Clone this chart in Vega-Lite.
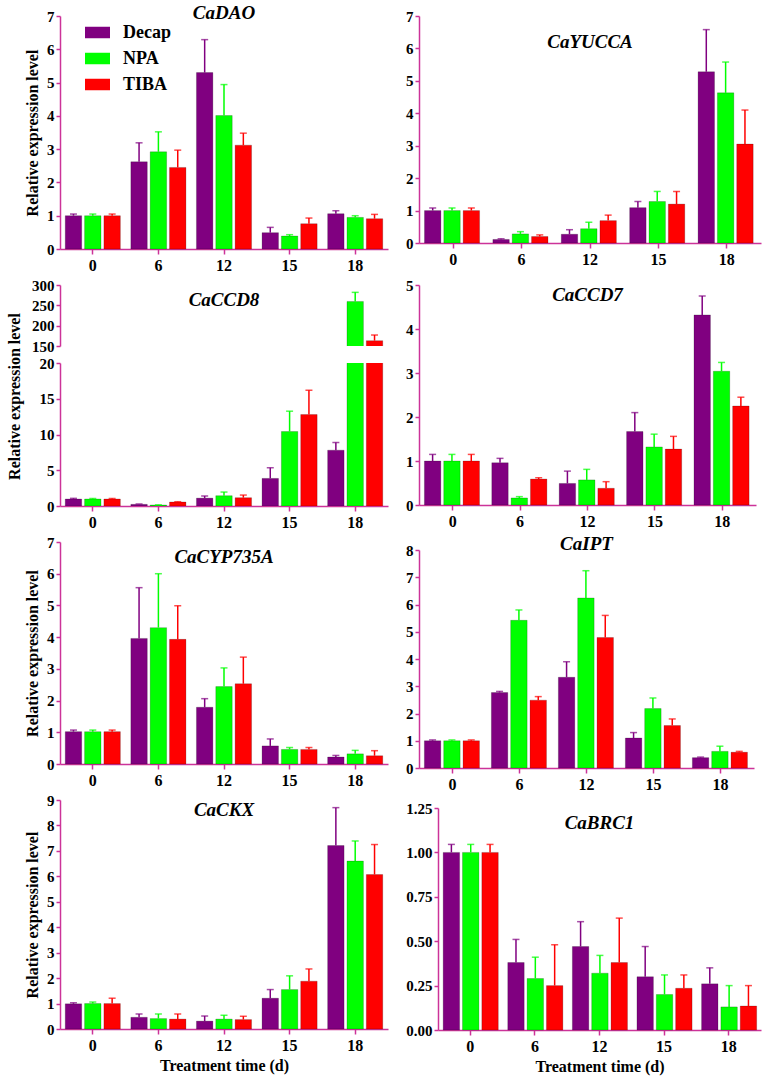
{
"$schema": "https://vega.github.io/schema/vega-lite/v6.json",
"padding": {"left": 6, "top": 3, "right": 2, "bottom": 4},
"background": "white",
"datasets": {"expr": [
{"gene":"CaDAO","time":"0","treatment":"Decap","mean":1.0,"upper":1.05},
{"gene":"CaDAO","time":"0","treatment":"NPA","mean":1.0,"upper":1.05},
{"gene":"CaDAO","time":"0","treatment":"TIBA","mean":1.0,"upper":1.05},
{"gene":"CaDAO","time":"6","treatment":"Decap","mean":2.62,"upper":3.19},
{"gene":"CaDAO","time":"6","treatment":"NPA","mean":2.92,"upper":3.52},
{"gene":"CaDAO","time":"6","treatment":"TIBA","mean":2.45,"upper":2.97},
{"gene":"CaDAO","time":"12","treatment":"Decap","mean":5.30,"upper":6.29},
{"gene":"CaDAO","time":"12","treatment":"NPA","mean":4.01,"upper":4.94},
{"gene":"CaDAO","time":"12","treatment":"TIBA","mean":3.12,"upper":3.48},
{"gene":"CaDAO","time":"15","treatment":"Decap","mean":0.49,"upper":0.65},
{"gene":"CaDAO","time":"15","treatment":"NPA","mean":0.39,"upper":0.43},
{"gene":"CaDAO","time":"15","treatment":"TIBA","mean":0.76,"upper":0.93},
{"gene":"CaDAO","time":"18","treatment":"Decap","mean":1.06,"upper":1.15},
{"gene":"CaDAO","time":"18","treatment":"NPA","mean":0.95,"upper":1.0},
{"gene":"CaDAO","time":"18","treatment":"TIBA","mean":0.91,"upper":1.04},
{"gene":"CaYUCCA","time":"0","treatment":"Decap","mean":1.0,"upper":1.08},
{"gene":"CaYUCCA","time":"0","treatment":"NPA","mean":1.0,"upper":1.08},
{"gene":"CaYUCCA","time":"0","treatment":"TIBA","mean":1.0,"upper":1.08},
{"gene":"CaYUCCA","time":"6","treatment":"Decap","mean":0.11,"upper":0.13},
{"gene":"CaYUCCA","time":"6","treatment":"NPA","mean":0.28,"upper":0.35},
{"gene":"CaYUCCA","time":"6","treatment":"TIBA","mean":0.2,"upper":0.25},
{"gene":"CaYUCCA","time":"12","treatment":"Decap","mean":0.27,"upper":0.41},
{"gene":"CaYUCCA","time":"12","treatment":"NPA","mean":0.44,"upper":0.64},
{"gene":"CaYUCCA","time":"12","treatment":"TIBA","mean":0.69,"upper":0.86},
{"gene":"CaYUCCA","time":"15","treatment":"Decap","mean":1.09,"upper":1.28},
{"gene":"CaYUCCA","time":"15","treatment":"NPA","mean":1.28,"upper":1.59},
{"gene":"CaYUCCA","time":"15","treatment":"TIBA","mean":1.2,"upper":1.59},
{"gene":"CaYUCCA","time":"18","treatment":"Decap","mean":5.28,"upper":6.58},
{"gene":"CaYUCCA","time":"18","treatment":"NPA","mean":4.63,"upper":5.58},
{"gene":"CaYUCCA","time":"18","treatment":"TIBA","mean":3.05,"upper":4.1},
{"gene":"CaCCD8","time":"0","treatment":"Decap","mean":0.98,"upper":1.07},
{"gene":"CaCCD8","time":"0","treatment":"NPA","mean":0.98,"upper":1.05},
{"gene":"CaCCD8","time":"0","treatment":"TIBA","mean":0.98,"upper":1.05},
{"gene":"CaCCD8","time":"6","treatment":"Decap","mean":0.23,"upper":0.28},
{"gene":"CaCCD8","time":"6","treatment":"NPA","mean":0.14,"upper":0.16},
{"gene":"CaCCD8","time":"6","treatment":"TIBA","mean":0.56,"upper":0.6},
{"gene":"CaCCD8","time":"12","treatment":"Decap","mean":1.1,"upper":1.4},
{"gene":"CaCCD8","time":"12","treatment":"NPA","mean":1.44,"upper":1.95},
{"gene":"CaCCD8","time":"12","treatment":"TIBA","mean":1.16,"upper":1.53},
{"gene":"CaCCD8","time":"15","treatment":"Decap","mean":3.86,"upper":5.35},
{"gene":"CaCCD8","time":"15","treatment":"NPA","mean":10.42,"upper":13.26},
{"gene":"CaCCD8","time":"15","treatment":"TIBA","mean":12.79,"upper":16.19},
{"gene":"CaCCD8","time":"18","treatment":"Decap","mean":7.81,"upper":8.88},
{"gene":"CaCCD8","time":"18","treatment":"NPA","mean":259.6,"upper":281.9},
{"gene":"CaCCD8","time":"18","treatment":"TIBA","mean":163.2,"upper":177.0},
{"gene":"CaCCD7","time":"0","treatment":"Decap","mean":1.0,"upper":1.15},
{"gene":"CaCCD7","time":"0","treatment":"NPA","mean":1.0,"upper":1.15},
{"gene":"CaCCD7","time":"0","treatment":"TIBA","mean":1.0,"upper":1.15},
{"gene":"CaCCD7","time":"6","treatment":"Decap","mean":0.96,"upper":1.06},
{"gene":"CaCCD7","time":"6","treatment":"NPA","mean":0.16,"upper":0.19},
{"gene":"CaCCD7","time":"6","treatment":"TIBA","mean":0.59,"upper":0.62},
{"gene":"CaCCD7","time":"12","treatment":"Decap","mean":0.49,"upper":0.77},
{"gene":"CaCCD7","time":"12","treatment":"NPA","mean":0.57,"upper":0.81},
{"gene":"CaCCD7","time":"12","treatment":"TIBA","mean":0.38,"upper":0.53},
{"gene":"CaCCD7","time":"15","treatment":"Decap","mean":1.67,"upper":2.1},
{"gene":"CaCCD7","time":"15","treatment":"NPA","mean":1.32,"upper":1.61},
{"gene":"CaCCD7","time":"15","treatment":"TIBA","mean":1.27,"upper":1.56},
{"gene":"CaCCD7","time":"18","treatment":"Decap","mean":4.32,"upper":4.75},
{"gene":"CaCCD7","time":"18","treatment":"NPA","mean":3.04,"upper":3.24},
{"gene":"CaCCD7","time":"18","treatment":"TIBA","mean":2.25,"upper":2.45},
{"gene":"CaCYP735A","time":"0","treatment":"Decap","mean":1.02,"upper":1.07},
{"gene":"CaCYP735A","time":"0","treatment":"NPA","mean":1.02,"upper":1.07},
{"gene":"CaCYP735A","time":"0","treatment":"TIBA","mean":1.02,"upper":1.07},
{"gene":"CaCYP735A","time":"6","treatment":"Decap","mean":3.96,"upper":5.56},
{"gene":"CaCYP735A","time":"6","treatment":"NPA","mean":4.3,"upper":6.0},
{"gene":"CaCYP735A","time":"6","treatment":"TIBA","mean":3.93,"upper":4.99},
{"gene":"CaCYP735A","time":"12","treatment":"Decap","mean":1.79,"upper":2.06},
{"gene":"CaCYP735A","time":"12","treatment":"NPA","mean":2.44,"upper":3.03},
{"gene":"CaCYP735A","time":"12","treatment":"TIBA","mean":2.53,"upper":3.37},
{"gene":"CaCYP735A","time":"15","treatment":"Decap","mean":0.57,"upper":0.79},
{"gene":"CaCYP735A","time":"15","treatment":"NPA","mean":0.46,"upper":0.52},
{"gene":"CaCYP735A","time":"15","treatment":"TIBA","mean":0.46,"upper":0.52},
{"gene":"CaCYP735A","time":"18","treatment":"Decap","mean":0.22,"upper":0.27},
{"gene":"CaCYP735A","time":"18","treatment":"NPA","mean":0.32,"upper":0.43},
{"gene":"CaCYP735A","time":"18","treatment":"TIBA","mean":0.26,"upper":0.42},
{"gene":"CaIPT","time":"0","treatment":"Decap","mean":1.0,"upper":1.03},
{"gene":"CaIPT","time":"0","treatment":"NPA","mean":1.0,"upper":1.03},
{"gene":"CaIPT","time":"0","treatment":"TIBA","mean":1.0,"upper":1.03},
{"gene":"CaIPT","time":"6","treatment":"Decap","mean":2.77,"upper":2.81},
{"gene":"CaIPT","time":"6","treatment":"NPA","mean":5.42,"upper":5.8},
{"gene":"CaIPT","time":"6","treatment":"TIBA","mean":2.49,"upper":2.62},
{"gene":"CaIPT","time":"12","treatment":"Decap","mean":3.33,"upper":3.9},
{"gene":"CaIPT","time":"12","treatment":"NPA","mean":6.24,"upper":7.24},
{"gene":"CaIPT","time":"12","treatment":"TIBA","mean":4.79,"upper":5.6},
{"gene":"CaIPT","time":"15","treatment":"Decap","mean":1.1,"upper":1.3},
{"gene":"CaIPT","time":"15","treatment":"NPA","mean":2.18,"upper":2.57},
{"gene":"CaIPT","time":"15","treatment":"TIBA","mean":1.56,"upper":1.8},
{"gene":"CaIPT","time":"18","treatment":"Decap","mean":0.38,"upper":0.4},
{"gene":"CaIPT","time":"18","treatment":"NPA","mean":0.61,"upper":0.8},
{"gene":"CaIPT","time":"18","treatment":"TIBA","mean":0.58,"upper":0.61},
{"gene":"CaCKX","time":"0","treatment":"Decap","mean":0.99,"upper":1.03},
{"gene":"CaCKX","time":"0","treatment":"NPA","mean":1.0,"upper":1.06},
{"gene":"CaCKX","time":"0","treatment":"TIBA","mean":1.0,"upper":1.21},
{"gene":"CaCKX","time":"6","treatment":"Decap","mean":0.46,"upper":0.59},
{"gene":"CaCKX","time":"6","treatment":"NPA","mean":0.41,"upper":0.59},
{"gene":"CaCKX","time":"6","treatment":"TIBA","mean":0.39,"upper":0.59},
{"gene":"CaCKX","time":"12","treatment":"Decap","mean":0.31,"upper":0.51},
{"gene":"CaCKX","time":"12","treatment":"NPA","mean":0.39,"upper":0.54},
{"gene":"CaCKX","time":"12","treatment":"TIBA","mean":0.37,"upper":0.5},
{"gene":"CaCKX","time":"15","treatment":"Decap","mean":1.21,"upper":1.55},
{"gene":"CaCKX","time":"15","treatment":"NPA","mean":1.55,"upper":2.09},
{"gene":"CaCKX","time":"15","treatment":"TIBA","mean":1.88,"upper":2.36},
{"gene":"CaCKX","time":"18","treatment":"Decap","mean":7.21,"upper":8.7},
{"gene":"CaCKX","time":"18","treatment":"NPA","mean":6.6,"upper":7.39},
{"gene":"CaCKX","time":"18","treatment":"TIBA","mean":6.07,"upper":7.25},
{"gene":"CaBRC1","time":"0","treatment":"Decap","mean":1.0,"upper":1.045},
{"gene":"CaBRC1","time":"0","treatment":"NPA","mean":1.0,"upper":1.045},
{"gene":"CaBRC1","time":"0","treatment":"TIBA","mean":1.0,"upper":1.045},
{"gene":"CaBRC1","time":"6","treatment":"Decap","mean":0.38,"upper":0.51},
{"gene":"CaBRC1","time":"6","treatment":"NPA","mean":0.29,"upper":0.41},
{"gene":"CaBRC1","time":"6","treatment":"TIBA","mean":0.25,"upper":0.48},
{"gene":"CaBRC1","time":"12","treatment":"Decap","mean":0.47,"upper":0.61},
{"gene":"CaBRC1","time":"12","treatment":"NPA","mean":0.32,"upper":0.42},
{"gene":"CaBRC1","time":"12","treatment":"TIBA","mean":0.38,"upper":0.63},
{"gene":"CaBRC1","time":"15","treatment":"Decap","mean":0.3,"upper":0.47},
{"gene":"CaBRC1","time":"15","treatment":"NPA","mean":0.2,"upper":0.31},
{"gene":"CaBRC1","time":"15","treatment":"TIBA","mean":0.235,"upper":0.31},
{"gene":"CaBRC1","time":"18","treatment":"Decap","mean":0.26,"upper":0.35},
{"gene":"CaBRC1","time":"18","treatment":"NPA","mean":0.13,"upper":0.25},
{"gene":"CaBRC1","time":"18","treatment":"TIBA","mean":0.135,"upper":0.25}
]},
"columns": 2,
"align": "none",
"spacing": {"row": 5, "column": 17},
"resolve": {"scale": {"color": "independent"}, "legend": {"color": "independent"}},
"concat": [
{
"width": 328, "height": 233,
"data": {"name": "expr"},
"transform": [{"filter": "datum.gene === 'CaDAO'"}],
"encoding": {
 "x": {"field": "time", "type": "nominal", "scale": {"domain": ["0","6","12","15","18"], "paddingInner": 0.16, "paddingOuter": 0.08}, "axis": {"title": null}},
 "y": {"field": "mean", "type": "quantitative", "scale": {"domain": [0,7], "nice": false}, "axis": {"values": [0,1,2,3,4,5,6,7], "format": "d", "title": "Relative expression level", "titlePadding": 6}}
},
"layer": [
{"mark": {"type": "bar", "stroke": "#000", "strokeOpacity": 0.25, "strokeWidth": 0.8},
 "encoding": {
  "xOffset": {"field": "treatment", "type": "nominal", "scale": {"domain": ["Decap","NPA","TIBA"], "paddingInner": 0.15, "paddingOuter": 0}},
  "color": {"field": "treatment", "type": "nominal", "scale": {"domain": ["Decap","NPA","TIBA"], "range": ["#800080","#00ff00","#ff0000"]},
   "legend": {"title": null, "orient": "none", "legendX": 25, "legendY": 4, "symbolType": "M-1,-0.46H1V0.46H-1Z", "symbolSize": 625, "symbolStrokeWidth": 0, "symbolOpacity": 1, "labelFont": "Liberation Serif", "labelFontWeight": "bold", "labelFontSize": 18, "labelColor": "#000", "labelOffset": 13, "rowPadding": 4, "padding": 0}}
 }},
{"mark": {"type": "rule", "strokeWidth": 1.5},
 "encoding": {
  "xOffset": {"field": "treatment", "type": "nominal", "scale": {"domain": ["Decap","NPA","TIBA"]}},
  "y2": {"field": "upper"},
  "color": {"field": "treatment", "type": "nominal", "legend": null}
 }},
{"mark": {"type": "tick", "thickness": 1.5, "size": 7},
 "encoding": {
  "xOffset": {"field": "treatment", "type": "nominal", "scale": {"domain": ["Decap","NPA","TIBA"]}},
  "y": {"field": "upper", "type": "quantitative", "scale": {"domain": [0,7], "nice": false}, "axis": {"values": [0,1,2,3,4,5,6,7], "format": "d", "title": "Relative expression level", "titlePadding": 6}},
  "color": {"field": "treatment", "type": "nominal", "legend": null}
 }},
{"transform": [{"filter": "datum.time === '0' && datum.treatment === 'Decap'"}],
 "mark": {"type": "text", "font": "Liberation Serif", "fontStyle": "italic", "fontWeight": "bold", "fontSize": 19, "baseline": "alphabetic", "align": "center"},
 "encoding": {
  "x": {"datum": "12", "type": "nominal", "scale": {"domain": ["0","6","12","15","18"]}, "axis": {"title": null}},
  "y": {"datum": 6.91, "type": "quantitative", "scale": {"domain": [0,7], "nice": false}, "axis": {"values": [0,1,2,3,4,5,6,7], "format": "d", "title": "Relative expression level", "titlePadding": 6}},
  "text": {"value": "CaDAO"}}}
]
},
{
"width": 342, "height": 227,
"data": {"name": "expr"},
"transform": [{"filter": "datum.gene === 'CaYUCCA'"}],
"encoding": {
 "x": {"field": "time", "type": "nominal", "scale": {"domain": ["0","6","12","15","18"], "paddingInner": 0.16, "paddingOuter": 0.08}, "axis": {"title": null}},
 "y": {"field": "mean", "type": "quantitative", "scale": {"domain": [0,7], "nice": false}, "axis": {"values": [0,1,2,3,4,5,6,7], "format": "d", "title": null}}
},
"layer": [
{"mark": {"type": "bar", "stroke": "#000", "strokeOpacity": 0.25, "strokeWidth": 0.8},
 "encoding": {
  "xOffset": {"field": "treatment", "type": "nominal", "scale": {"domain": ["Decap","NPA","TIBA"], "paddingInner": 0.15, "paddingOuter": 0}},
  "color": {"field": "treatment", "type": "nominal", "scale": {"domain": ["Decap","NPA","TIBA"], "range": ["#800080","#00ff00","#ff0000"]}, "legend": null}
 }},
{"mark": {"type": "rule", "strokeWidth": 1.5},
 "encoding": {
  "xOffset": {"field": "treatment", "type": "nominal", "scale": {"domain": ["Decap","NPA","TIBA"]}},
  "y2": {"field": "upper"},
  "color": {"field": "treatment", "type": "nominal", "legend": null}
 }},
{"mark": {"type": "tick", "thickness": 1.5, "size": 7},
 "encoding": {
  "xOffset": {"field": "treatment", "type": "nominal", "scale": {"domain": ["Decap","NPA","TIBA"]}},
  "y": {"field": "upper", "type": "quantitative", "scale": {"domain": [0,7], "nice": false}, "axis": {"values": [0,1,2,3,4,5,6,7], "format": "d", "title": null}},
  "color": {"field": "treatment", "type": "nominal", "legend": null}
 }},
{"transform": [{"filter": "datum.time === '0' && datum.treatment === 'Decap'"}],
 "mark": {"type": "text", "font": "Liberation Serif", "fontStyle": "italic", "fontWeight": "bold", "fontSize": 19, "baseline": "alphabetic", "align": "center"},
 "encoding": {
  "x": {"datum": "12", "type": "nominal", "scale": {"domain": ["0","6","12","15","18"]}, "axis": {"title": null}},
  "y": {"datum": 6.02, "type": "quantitative", "scale": {"domain": [0,7], "nice": false}, "axis": {"values": [0,1,2,3,4,5,6,7], "format": "d", "title": null}},
  "text": {"value": "CaYUCCA"}}}
]
},
{
"spacing": 17,
"bounds": "flush",
"resolve": {"scale": {"color": "independent"}, "legend": {"color": "independent"}},
"vconcat": [
{
"width": 328, "height": 61,
"data": {"name": "expr"},
"transform": [{"filter": "datum.gene === 'CaCCD8'"}],
"encoding": {
 "x": {"field": "time", "type": "nominal", "scale": {"domain": ["0","6","12","15","18"], "paddingInner": 0.16, "paddingOuter": 0.08}, "axis": null},
 "y": {"field": "mean", "type": "quantitative", "scale": {"domain": [150,300], "nice": false, "zero": false}, "axis": {"values": [150,200,250,300], "format": "d", "title": null}}
},
"layer": [
{"mark": {"type": "bar", "stroke": "#000", "strokeOpacity": 0.25, "strokeWidth": 0.8, "clip": true},
 "encoding": {
  "xOffset": {"field": "treatment", "type": "nominal", "scale": {"domain": ["Decap","NPA","TIBA"], "paddingInner": 0.15, "paddingOuter": 0}},
  "color": {"field": "treatment", "type": "nominal", "scale": {"domain": ["Decap","NPA","TIBA"], "range": ["#800080","#00ff00","#ff0000"]}, "legend": null}
 }},
{"mark": {"type": "rule", "strokeWidth": 1.5, "clip": true},
 "encoding": {
  "xOffset": {"field": "treatment", "type": "nominal", "scale": {"domain": ["Decap","NPA","TIBA"]}},
  "y2": {"field": "upper"},
  "color": {"field": "treatment", "type": "nominal", "legend": null}
 }},
{"mark": {"type": "tick", "thickness": 1.5, "size": 7, "clip": true},
 "encoding": {
  "xOffset": {"field": "treatment", "type": "nominal", "scale": {"domain": ["Decap","NPA","TIBA"]}},
  "y": {"field": "upper", "type": "quantitative", "scale": {"domain": [150,300], "nice": false, "zero": false}, "axis": {"values": [150,200,250,300], "format": "d", "title": null}},
  "color": {"field": "treatment", "type": "nominal", "legend": null}
 }},
{"transform": [{"filter": "datum.time === '0' && datum.treatment === 'Decap'"}],
 "mark": {"type": "text", "font": "Liberation Serif", "fontStyle": "italic", "fontWeight": "bold", "fontSize": 19, "baseline": "alphabetic", "align": "center"},
 "encoding": {
  "x": {"datum": "12", "type": "nominal", "scale": {"domain": ["0","6","12","15","18"]}, "axis": null},
  "y": {"datum": 248, "type": "quantitative", "scale": {"domain": [150,300], "nice": false, "zero": false}, "axis": {"values": [150,200,250,300], "format": "d", "title": null}},
  "text": {"value": "CaCCD8"}}}
]
},
{
"width": 328, "height": 143,
"data": {"name": "expr"},
"transform": [{"filter": "datum.gene === 'CaCCD8'"}],
"encoding": {
 "x": {"field": "time", "type": "nominal", "scale": {"domain": ["0","6","12","15","18"], "paddingInner": 0.16, "paddingOuter": 0.08}, "axis": {"title": null}},
 "y": {"field": "mean", "type": "quantitative", "scale": {"domain": [0,20], "nice": false}, "axis": {"values": [0,5,10,15,20], "format": "d", "title": "Relative expression level", "titlePadding": 17, "titleY": 33}}
},
"layer": [
{"mark": {"type": "bar", "stroke": "#000", "strokeOpacity": 0.25, "strokeWidth": 0.8, "clip": true},
 "encoding": {
  "xOffset": {"field": "treatment", "type": "nominal", "scale": {"domain": ["Decap","NPA","TIBA"], "paddingInner": 0.15, "paddingOuter": 0}},
  "color": {"field": "treatment", "type": "nominal", "scale": {"domain": ["Decap","NPA","TIBA"], "range": ["#800080","#00ff00","#ff0000"]}, "legend": null}
 }},
{"mark": {"type": "rule", "strokeWidth": 1.5, "clip": true},
 "encoding": {
  "xOffset": {"field": "treatment", "type": "nominal", "scale": {"domain": ["Decap","NPA","TIBA"]}},
  "y2": {"field": "upper"},
  "color": {"field": "treatment", "type": "nominal", "legend": null}
 }},
{"mark": {"type": "tick", "thickness": 1.5, "size": 7, "clip": true},
 "encoding": {
  "xOffset": {"field": "treatment", "type": "nominal", "scale": {"domain": ["Decap","NPA","TIBA"]}},
  "y": {"field": "upper", "type": "quantitative", "scale": {"domain": [0,20], "nice": false}, "axis": {"values": [0,5,10,15,20], "format": "d", "title": "Relative expression level", "titlePadding": 17, "titleY": 33}},
  "color": {"field": "treatment", "type": "nominal", "legend": null}
 }}
]
}
]
},
{
"width": 337, "height": 220,
"data": {"name": "expr"},
"transform": [{"filter": "datum.gene === 'CaCCD7'"}],
"encoding": {
 "x": {"field": "time", "type": "nominal", "scale": {"domain": ["0","6","12","15","18"], "paddingInner": 0.16, "paddingOuter": 0.08}, "axis": {"title": null}},
 "y": {"field": "mean", "type": "quantitative", "scale": {"domain": [0,5], "nice": false}, "axis": {"values": [0,1,2,3,4,5], "format": "d", "title": null}}
},
"layer": [
{"mark": {"type": "bar", "stroke": "#000", "strokeOpacity": 0.25, "strokeWidth": 0.8},
 "encoding": {
  "xOffset": {"field": "treatment", "type": "nominal", "scale": {"domain": ["Decap","NPA","TIBA"], "paddingInner": 0.15, "paddingOuter": 0}},
  "color": {"field": "treatment", "type": "nominal", "scale": {"domain": ["Decap","NPA","TIBA"], "range": ["#800080","#00ff00","#ff0000"]}, "legend": null}
 }},
{"mark": {"type": "rule", "strokeWidth": 1.5},
 "encoding": {
  "xOffset": {"field": "treatment", "type": "nominal", "scale": {"domain": ["Decap","NPA","TIBA"]}},
  "y2": {"field": "upper"},
  "color": {"field": "treatment", "type": "nominal", "legend": null}
 }},
{"mark": {"type": "tick", "thickness": 1.5, "size": 7},
 "encoding": {
  "xOffset": {"field": "treatment", "type": "nominal", "scale": {"domain": ["Decap","NPA","TIBA"]}},
  "y": {"field": "upper", "type": "quantitative", "scale": {"domain": [0,5], "nice": false}, "axis": {"values": [0,1,2,3,4,5], "format": "d", "title": null}},
  "color": {"field": "treatment", "type": "nominal", "legend": null}
 }},
{"transform": [{"filter": "datum.time === '0' && datum.treatment === 'Decap'"}],
 "mark": {"type": "text", "font": "Liberation Serif", "fontStyle": "italic", "fontWeight": "bold", "fontSize": 19, "baseline": "alphabetic", "align": "center"},
 "encoding": {
  "x": {"datum": "12", "type": "nominal", "scale": {"domain": ["0","6","12","15","18"]}, "axis": {"title": null}},
  "y": {"datum": 4.63, "type": "quantitative", "scale": {"domain": [0,5], "nice": false}, "axis": {"values": [0,1,2,3,4,5], "format": "d", "title": null}},
  "text": {"value": "CaCCD7"}}}
]
},
{
"width": 328, "height": 222,
"data": {"name": "expr"},
"transform": [{"filter": "datum.gene === 'CaCYP735A'"}],
"encoding": {
 "x": {"field": "time", "type": "nominal", "scale": {"domain": ["0","6","12","15","18"], "paddingInner": 0.16, "paddingOuter": 0.08}, "axis": {"title": null}},
 "y": {"field": "mean", "type": "quantitative", "scale": {"domain": [0,7], "nice": false}, "axis": {"values": [0,1,2,3,4,5,6,7], "format": "d", "title": ["", "Relative expression level"], "titleLineHeight": 15, "titlePadding": 6}}
},
"layer": [
{"mark": {"type": "bar", "stroke": "#000", "strokeOpacity": 0.25, "strokeWidth": 0.8},
 "encoding": {
  "xOffset": {"field": "treatment", "type": "nominal", "scale": {"domain": ["Decap","NPA","TIBA"], "paddingInner": 0.15, "paddingOuter": 0}},
  "color": {"field": "treatment", "type": "nominal", "scale": {"domain": ["Decap","NPA","TIBA"], "range": ["#800080","#00ff00","#ff0000"]}, "legend": null}
 }},
{"mark": {"type": "rule", "strokeWidth": 1.5},
 "encoding": {
  "xOffset": {"field": "treatment", "type": "nominal", "scale": {"domain": ["Decap","NPA","TIBA"]}},
  "y2": {"field": "upper"},
  "color": {"field": "treatment", "type": "nominal", "legend": null}
 }},
{"mark": {"type": "tick", "thickness": 1.5, "size": 7},
 "encoding": {
  "xOffset": {"field": "treatment", "type": "nominal", "scale": {"domain": ["Decap","NPA","TIBA"]}},
  "y": {"field": "upper", "type": "quantitative", "scale": {"domain": [0,7], "nice": false}, "axis": {"values": [0,1,2,3,4,5,6,7], "format": "d", "title": ["", "Relative expression level"], "titleLineHeight": 15, "titlePadding": 6}},
  "color": {"field": "treatment", "type": "nominal", "legend": null}
 }},
{"transform": [{"filter": "datum.time === '0' && datum.treatment === 'Decap'"}],
 "mark": {"type": "text", "font": "Liberation Serif", "fontStyle": "italic", "fontWeight": "bold", "fontSize": 19, "baseline": "alphabetic", "align": "center"},
 "encoding": {
  "x": {"datum": "12", "type": "nominal", "scale": {"domain": ["0","6","12","15","18"]}, "axis": {"title": null}},
  "y": {"datum": 6.34, "type": "quantitative", "scale": {"domain": [0,7], "nice": false}, "axis": {"values": [0,1,2,3,4,5,6,7], "format": "d", "title": ["", "Relative expression level"], "titleLineHeight": 15, "titlePadding": 6}},
  "text": {"value": "CaCYP735A"}}}
]
},
{
"width": 335, "height": 218,
"data": {"name": "expr"},
"transform": [{"filter": "datum.gene === 'CaIPT'"}],
"encoding": {
 "x": {"field": "time", "type": "nominal", "scale": {"domain": ["0","6","12","15","18"], "paddingInner": 0.16, "paddingOuter": 0.08}, "axis": {"title": null}},
 "y": {"field": "mean", "type": "quantitative", "scale": {"domain": [0,8], "nice": false}, "axis": {"values": [0,1,2,3,4,5,6,7,8], "format": "d", "title": null}}
},
"layer": [
{"mark": {"type": "bar", "stroke": "#000", "strokeOpacity": 0.25, "strokeWidth": 0.8},
 "encoding": {
  "xOffset": {"field": "treatment", "type": "nominal", "scale": {"domain": ["Decap","NPA","TIBA"], "paddingInner": 0.15, "paddingOuter": 0}},
  "color": {"field": "treatment", "type": "nominal", "scale": {"domain": ["Decap","NPA","TIBA"], "range": ["#800080","#00ff00","#ff0000"]}, "legend": null}
 }},
{"mark": {"type": "rule", "strokeWidth": 1.5},
 "encoding": {
  "xOffset": {"field": "treatment", "type": "nominal", "scale": {"domain": ["Decap","NPA","TIBA"]}},
  "y2": {"field": "upper"},
  "color": {"field": "treatment", "type": "nominal", "legend": null}
 }},
{"mark": {"type": "tick", "thickness": 1.5, "size": 7},
 "encoding": {
  "xOffset": {"field": "treatment", "type": "nominal", "scale": {"domain": ["Decap","NPA","TIBA"]}},
  "y": {"field": "upper", "type": "quantitative", "scale": {"domain": [0,8], "nice": false}, "axis": {"values": [0,1,2,3,4,5,6,7,8], "format": "d", "title": null}},
  "color": {"field": "treatment", "type": "nominal", "legend": null}
 }},
{"transform": [{"filter": "datum.time === '0' && datum.treatment === 'Decap'"}],
 "mark": {"type": "text", "font": "Liberation Serif", "fontStyle": "italic", "fontWeight": "bold", "fontSize": 19, "baseline": "alphabetic", "align": "center"},
 "encoding": {
  "x": {"datum": "12", "type": "nominal", "scale": {"domain": ["0","6","12","15","18"]}, "axis": {"title": null}},
  "y": {"datum": 8.0, "type": "quantitative", "scale": {"domain": [0,8], "nice": false}, "axis": {"values": [0,1,2,3,4,5,6,7,8], "format": "d", "title": null}},
  "text": {"value": "CaIPT"}}}
]
},
{
"width": 328, "height": 229,
"data": {"name": "expr"},
"transform": [{"filter": "datum.gene === 'CaCKX'"}],
"encoding": {
 "x": {"field": "time", "type": "nominal", "scale": {"domain": ["0","6","12","15","18"], "paddingInner": 0.16, "paddingOuter": 0.08}, "axis": {"title": "Treatment time (d)", "titlePadding": 4}},
 "y": {"field": "mean", "type": "quantitative", "scale": {"domain": [0,9], "nice": false}, "axis": {"values": [0,1,2,3,4,5,6,7,8,9], "format": "d", "title": ["", "Relative expression level"], "titleLineHeight": 11, "titlePadding": 6}}
},
"layer": [
{"mark": {"type": "bar", "stroke": "#000", "strokeOpacity": 0.25, "strokeWidth": 0.8},
 "encoding": {
  "xOffset": {"field": "treatment", "type": "nominal", "scale": {"domain": ["Decap","NPA","TIBA"], "paddingInner": 0.15, "paddingOuter": 0}},
  "color": {"field": "treatment", "type": "nominal", "scale": {"domain": ["Decap","NPA","TIBA"], "range": ["#800080","#00ff00","#ff0000"]}, "legend": null}
 }},
{"mark": {"type": "rule", "strokeWidth": 1.5},
 "encoding": {
  "xOffset": {"field": "treatment", "type": "nominal", "scale": {"domain": ["Decap","NPA","TIBA"]}},
  "y2": {"field": "upper"},
  "color": {"field": "treatment", "type": "nominal", "legend": null}
 }},
{"mark": {"type": "tick", "thickness": 1.5, "size": 7},
 "encoding": {
  "xOffset": {"field": "treatment", "type": "nominal", "scale": {"domain": ["Decap","NPA","TIBA"]}},
  "y": {"field": "upper", "type": "quantitative", "scale": {"domain": [0,9], "nice": false}, "axis": {"values": [0,1,2,3,4,5,6,7,8,9], "format": "d", "title": ["", "Relative expression level"], "titleLineHeight": 11, "titlePadding": 6}},
  "color": {"field": "treatment", "type": "nominal", "legend": null}
 }},
{"transform": [{"filter": "datum.time === '0' && datum.treatment === 'Decap'"}],
 "mark": {"type": "text", "font": "Liberation Serif", "fontStyle": "italic", "fontWeight": "bold", "fontSize": 19, "baseline": "alphabetic", "align": "center"},
 "encoding": {
  "x": {"datum": "12", "type": "nominal", "scale": {"domain": ["0","6","12","15","18"]}, "axis": {"title": "Treatment time (d)", "titlePadding": 4}},
  "y": {"datum": 8.37, "type": "quantitative", "scale": {"domain": [0,9], "nice": false}, "axis": {"values": [0,1,2,3,4,5,6,7,8,9], "format": "d", "title": ["", "Relative expression level"], "titleLineHeight": 11, "titlePadding": 6}},
  "text": {"value": "CaCKX"}}}
]
},
{
"width": 323, "height": 222,
"data": {"name": "expr"},
"transform": [{"filter": "datum.gene === 'CaBRC1'"}],
"encoding": {
 "x": {"field": "time", "type": "nominal", "scale": {"domain": ["0","6","12","15","18"], "paddingInner": 0.16, "paddingOuter": 0.08}, "axis": {"title": "Treatment time (d)", "titlePadding": 4}},
 "y": {"field": "mean", "type": "quantitative", "scale": {"domain": [0,1.25], "nice": false}, "axis": {"values": [0,0.25,0.5,0.75,1.0,1.25], "format": ".2f", "title": null}}
},
"layer": [
{"mark": {"type": "bar", "stroke": "#000", "strokeOpacity": 0.25, "strokeWidth": 0.8},
 "encoding": {
  "xOffset": {"field": "treatment", "type": "nominal", "scale": {"domain": ["Decap","NPA","TIBA"], "paddingInner": 0.15, "paddingOuter": 0}},
  "color": {"field": "treatment", "type": "nominal", "scale": {"domain": ["Decap","NPA","TIBA"], "range": ["#800080","#00ff00","#ff0000"]}, "legend": null}
 }},
{"mark": {"type": "rule", "strokeWidth": 1.5},
 "encoding": {
  "xOffset": {"field": "treatment", "type": "nominal", "scale": {"domain": ["Decap","NPA","TIBA"]}},
  "y2": {"field": "upper"},
  "color": {"field": "treatment", "type": "nominal", "legend": null}
 }},
{"mark": {"type": "tick", "thickness": 1.5, "size": 7},
 "encoding": {
  "xOffset": {"field": "treatment", "type": "nominal", "scale": {"domain": ["Decap","NPA","TIBA"]}},
  "y": {"field": "upper", "type": "quantitative", "scale": {"domain": [0,1.25], "nice": false}, "axis": {"values": [0,0.25,0.5,0.75,1.0,1.25], "format": ".2f", "title": null}},
  "color": {"field": "treatment", "type": "nominal", "legend": null}
 }},
{"transform": [{"filter": "datum.time === '0' && datum.treatment === 'Decap'"}],
 "mark": {"type": "text", "font": "Liberation Serif", "fontStyle": "italic", "fontWeight": "bold", "fontSize": 19, "baseline": "alphabetic", "align": "center"},
 "encoding": {
  "x": {"datum": "12", "type": "nominal", "scale": {"domain": ["0","6","12","15","18"]}, "axis": {"title": "Treatment time (d)", "titlePadding": 4}},
  "y": {"datum": 1.13, "type": "quantitative", "scale": {"domain": [0,1.25], "nice": false}, "axis": {"values": [0,0.25,0.5,0.75,1.0,1.25], "format": ".2f", "title": null}},
  "text": {"value": "CaBRC1"}}}
]
}
],
"config": {
 "view": {"stroke": null},
 "axis": {"domainColor": "#cc3399", "domainWidth": 1.5, "tickColor": "#cc3399", "tickWidth": 1.5, "tickSize": 5, "labelFont": "Liberation Serif", "labelFontWeight": "bold", "labelColor": "#000", "labelFontSize": 15, "titleFont": "Liberation Serif", "titleFontWeight": "bold", "titleFontSize": 16, "titleColor": "#000", "grid": false, "labelPadding": 2},
 "axisX": {"labelFontSize": 16, "labelAngle": 0, "labelPadding": 3},
 "axisY": {"tickSize": 4}
}
}
